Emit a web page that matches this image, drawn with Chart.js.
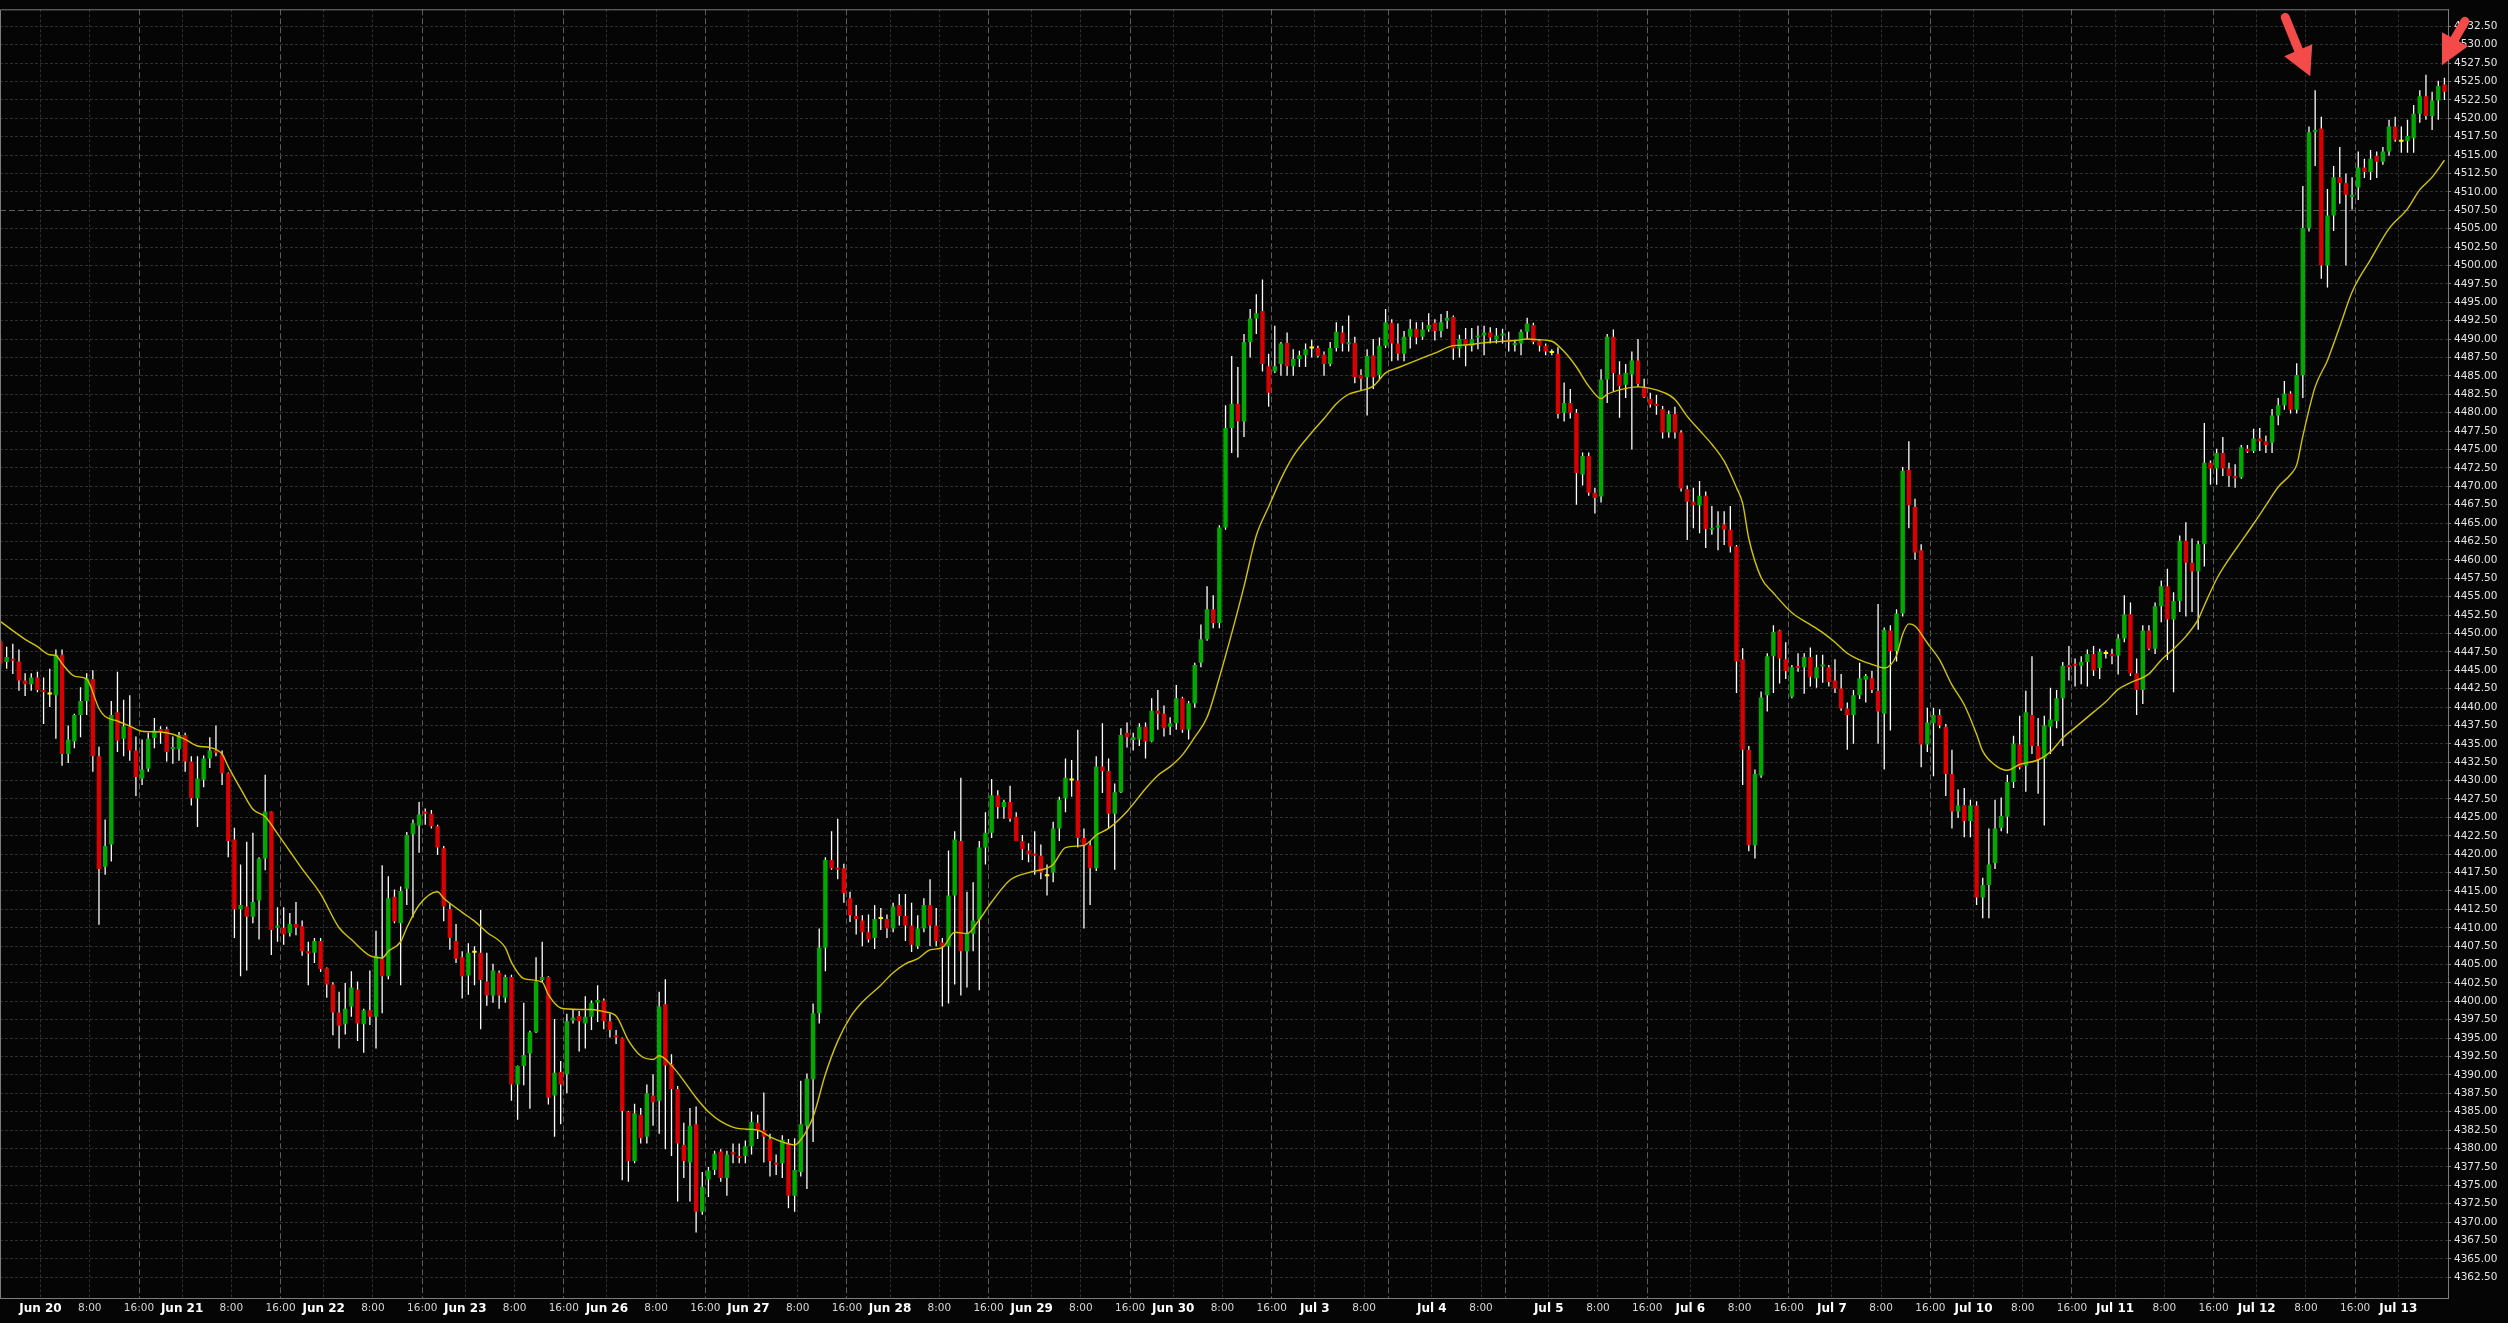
<!DOCTYPE html>
<html>
<head>
<meta charset="utf-8">
<script src="https://cdn.jsdelivr.net/npm/chart.js@4.4.1/dist/chart.umd.min.js"></script>
<style>
  html, body { margin: 0; padding: 0; background: #050505; }
  canvas { display: block; }
</style>
</head>
<body>
<canvas id="chart" width="2508" height="1323"></canvas>
<script>
// hourly candles, Jun 20 - Jul 13 (index = bar number)
const opens = [
  4448.9, 4446.1, 4446.5, 4446.2, 4443.6, 4443.1, 4444.0, 4442.3, 4441.7, 4441.6,
  4447.1, 4433.6, 4435.3, 4438.9, 4440.8, 4443.8, 4433.3, 4418.3, 4421.3, 4439.3,
  4435.7, 4437.3, 4434.1, 4430.3, 4431.6, 4435.8, 4437.0, 4437.0, 4434.3, 4434.3,
  4436.2, 4432.6, 4427.6, 4430.1, 4433.0, 4434.1, 4433.5, 4431.0, 4422.0, 4412.5,
  4412.9, 4411.5, 4413.7, 4419.4, 4425.8, 4410.0, 4410.0, 4409.3, 4410.5, 4410.2,
  4406.8, 4406.6, 4408.2, 4404.5, 4402.3, 4398.5, 4396.9, 4399.3, 4401.6, 4396.9,
  4398.8, 4397.9, 4405.8, 4403.4, 4414.2, 4410.6, 4415.3, 4422.7, 4423.9, 4425.8,
  4425.5, 4423.8, 4420.8, 4412.5, 4408.2, 4406.0, 4403.5, 4406.6, 4406.6, 4402.7,
  4400.8, 4403.9, 4400.5, 4403.3, 4388.7, 4391.2, 4392.9, 4395.8, 4402.9, 4403.3,
  4387.2, 4390.4, 4390.1, 4397.4, 4398.0, 4397.0, 4397.9, 4399.8, 4400.1, 4397.3,
  4395.4, 4395.0, 4385.0, 4378.3, 4384.6, 4381.6, 4387.2, 4386.5, 4399.6, 4391.5,
  4388.1, 4380.5, 4378.1, 4383.3, 4371.4, 4375.8, 4377.1, 4379.6, 4376.0, 4379.5,
  4379.0, 4379.0, 4380.3, 4383.5, 4382.5, 4381.3, 4378.1, 4378.0, 4380.7, 4373.6,
  4376.8, 4383.1, 4389.4, 4398.4, 4407.3, 4419.2, 4418.1, 4418.1, 4414.0, 4411.6,
  4411.0, 4409.4, 4408.6, 4411.2, 4411.2, 4409.9, 4413.1, 4411.6, 4410.3, 4407.5,
  4409.9, 4413.1, 4410.3, 4408.0, 4407.5, 4414.4, 4421.8, 4406.8, 4409.2, 4411.1,
  4420.9, 4422.9, 4428.0, 4426.4, 4427.1, 4425.1, 4421.8, 4420.5, 4420.1, 4419.8,
  4417.0, 4417.5, 4423.5, 4427.6, 4430.0, 4430.0, 4422.2, 4421.2, 4418.1, 4431.9,
  4431.3, 4425.5, 4428.4, 4436.5, 4435.5, 4435.6, 4437.3, 4435.3, 4439.5, 4439.1,
  4437.3, 4437.8, 4441.2, 4436.9, 4440.5, 4446.0, 4449.2, 4453.3, 4451.4, 4464.4,
  4477.9, 4481.2, 4478.8, 4489.6, 4492.8, 4493.8, 4486.3, 4485.6, 4486.6, 4489.5,
  4486.3, 4487.3, 4487.8, 4488.7, 4488.8, 4487.9, 4486.6, 4488.8, 4490.9, 4489.3,
  4489.5, 4485.1, 4484.8, 4487.8, 4485.1, 4489.1, 4492.2, 4489.4, 4488.0, 4490.3,
  4491.4, 4490.3, 4491.3, 4492.2, 4491.1, 4492.5, 4493.0, 4488.7, 4490.0, 4489.1,
  4490.2, 4490.5, 4490.9, 4489.9, 4490.5, 4489.9, 4489.2, 4489.4, 4491.0, 4491.9,
  4489.8, 4489.1, 4488.1, 4488.0, 4480.0, 4481.3, 4480.0, 4471.6, 4474.1, 4469.1,
  4468.6, 4484.5, 4490.3, 4485.2, 4483.8, 4485.2, 4487.1, 4483.5, 4481.9, 4481.2,
  4480.5, 4477.3, 4479.8, 4477.3, 4469.6, 4467.9, 4467.4, 4468.7, 4464.1, 4464.4,
  4464.8, 4464.1, 4461.8, 4446.5, 4434.2, 4421.2, 4430.7, 4441.6, 4446.9, 4450.4,
  4446.5, 4441.4, 4445.5, 4445.4, 4446.8, 4443.9, 4445.5, 4445.4, 4443.6, 4442.5,
  4439.8, 4438.9, 4441.6, 4443.7, 4443.9, 4442.2, 4439.1, 4450.4, 4447.6, 4452.7,
  4472.2, 4467.2, 4461.3, 4434.9, 4437.8, 4438.9, 4437.3, 4430.9, 4425.8, 4426.7,
  4424.5, 4426.6, 4414.1, 4415.8, 4418.8, 4423.6, 4425.1, 4429.8, 4434.9, 4432.0,
  4438.9, 4434.7, 4433.0, 4437.3, 4438.1, 4441.2, 4445.7, 4445.8, 4445.6, 4446.1,
  4447.2, 4445.3, 4447.2, 4447.2, 4447.0, 4449.3, 4452.6, 4444.6, 4442.3, 4450.4,
  4447.9, 4453.7, 4456.4, 4451.9, 4454.4, 4462.6, 4459.6, 4458.4, 4462.1, 4473.2,
  4472.4, 4474.5, 4472.4, 4471.4, 4471.2, 4475.1, 4474.8, 4476.5, 4476.1, 4475.9,
  4479.6, 4481.0, 4482.6, 4480.4, 4485.1, 4505.1, 4518.1, 4518.6, 4500.0, 4506.8,
  4512.0, 4511.2, 4509.3, 4510.6, 4513.3, 4512.7, 4514.9, 4514.1, 4515.5, 4518.9,
  4516.8, 4516.9, 4517.3, 4520.6, 4523.0, 4520.3, 4522.4, 4524.6
];
const highs = [
  4449.2, 4448.2, 4448.6, 4447.8, 4444.6, 4444.6, 4444.8, 4444.0, 4445.2, 4447.8,
  4447.8, 4437.5, 4439.1, 4442.7, 4444.6, 4445.0, 4434.6, 4424.7, 4440.8, 4444.8,
  4441.0, 4441.6, 4436.0, 4435.6, 4436.5, 4438.5, 4437.4, 4437.3, 4436.0, 4436.6,
  4436.5, 4433.3, 4433.3, 4433.4, 4435.9, 4437.5, 4434.1, 4431.1, 4423.6, 4418.6,
  4421.7, 4422.9, 4419.6, 4430.8, 4425.8, 4412.8, 4412.8, 4412.0, 4413.5, 4411.0,
  4408.1, 4408.6, 4408.6, 4404.6, 4402.6, 4401.3, 4402.5, 4404.1, 4402.7, 4399.0,
  4404.2, 4409.6, 4418.5, 4417.0, 4415.2, 4415.6, 4423.0, 4424.7, 4427.1, 4426.2,
  4426.0, 4424.0, 4421.1, 4413.3, 4410.5, 4406.8, 4407.9, 4407.5, 4412.4, 4406.6,
  4405.1, 4404.2, 4403.6, 4403.6, 4391.3, 4399.8, 4396.0, 4406.0, 4408.1, 4403.4,
  4397.6, 4391.9, 4398.3, 4398.9, 4398.7, 4400.7, 4400.1, 4402.2, 4400.4, 4398.3,
  4396.1, 4395.1, 4385.1, 4386.1, 4385.5, 4388.7, 4390.1, 4401.3, 4403.0, 4392.8,
  4388.5, 4383.5, 4385.5, 4385.7, 4376.8, 4377.5, 4379.7, 4379.9, 4379.7, 4380.7,
  4380.7, 4381.1, 4385.0, 4384.6, 4387.6, 4382.0, 4379.2, 4381.8, 4381.3, 4381.4,
  4389.2, 4390.2, 4399.7, 4409.9, 4419.6, 4423.1, 4424.8, 4418.7, 4414.9, 4413.1,
  4411.7, 4411.8, 4413.1, 4412.7, 4411.8, 4413.4, 4414.6, 4414.6, 4413.4, 4411.7,
  4414.0, 4416.6, 4412.7, 4408.6, 4420.5, 4423.1, 4430.4, 4414.9, 4416.2, 4421.8,
  4425.7, 4430.2, 4428.7, 4427.4, 4429.3, 4425.7, 4422.6, 4421.5, 4423.1, 4421.3,
  4418.6, 4424.4, 4427.8, 4433.0, 4432.8, 4436.9, 4423.5, 4421.8, 4433.3, 4437.8,
  4433.0, 4429.6, 4437.1, 4437.9, 4436.5, 4437.8, 4437.9, 4441.2, 4442.3, 4440.2,
  4438.6, 4443.0, 4441.4, 4440.8, 4446.0, 4451.2, 4456.4, 4455.2, 4464.7, 4481.0,
  4487.7, 4486.2, 4490.7, 4494.1, 4496.1, 4498.1, 4488.0, 4491.8, 4489.6, 4490.9,
  4488.6, 4488.4, 4489.4, 4489.9, 4489.1, 4488.3, 4489.6, 4492.3, 4491.8, 4493.2,
  4490.3, 4485.9, 4488.6, 4490.0, 4490.2, 4494.1, 4492.7, 4492.1, 4491.1, 4492.7,
  4492.3, 4492.3, 4493.5, 4492.7, 4493.4, 4493.8, 4493.2, 4490.6, 4491.5, 4491.5,
  4491.8, 4491.8, 4491.6, 4491.5, 4491.4, 4491.0, 4489.9, 4491.3, 4492.9, 4492.2,
  4490.0, 4489.4, 4488.6, 4488.9, 4484.1, 4483.2, 4480.5, 4474.6, 4474.6, 4469.8,
  4485.9, 4490.7, 4491.3, 4487.0, 4486.6, 4488.3, 4490.0, 4484.6, 4482.7, 4482.4,
  4480.9, 4480.3, 4480.8, 4477.6, 4470.1, 4469.8, 4470.7, 4469.3, 4467.3, 4466.6,
  4466.6, 4467.3, 4462.0, 4448.0, 4434.7, 4431.5, 4442.1, 4447.3, 4451.1, 4450.5,
  4448.8, 4445.7, 4447.3, 4447.3, 4448.1, 4447.1, 4447.1, 4445.7, 4446.5, 4444.5,
  4440.6, 4442.3, 4446.0, 4444.5, 4444.9, 4454.0, 4450.8, 4451.1, 4453.3, 4472.6,
  4476.1, 4468.3, 4462.1, 4439.9, 4439.9, 4439.7, 4437.7, 4434.2, 4428.8, 4429.0,
  4427.4, 4427.2, 4416.8, 4423.5, 4427.4, 4427.7, 4430.8, 4436.1, 4438.8, 4442.2,
  4446.9, 4438.5, 4438.8, 4442.6, 4442.3, 4446.1, 4448.3, 4446.6, 4446.9, 4447.8,
  4448.3, 4447.9, 4447.7, 4447.9, 4449.9, 4455.2, 4454.2, 4446.6, 4451.1, 4451.1,
  4454.2, 4457.2, 4458.8, 4455.6, 4463.3, 4465.1, 4462.9, 4462.6, 4478.6, 4473.5,
  4475.1, 4476.7, 4473.2, 4473.0, 4475.6, 4475.6, 4477.8, 4477.9, 4476.9, 4480.5,
  4482.0, 4484.3, 4482.9, 4486.7, 4510.8, 4518.9, 4523.8, 4520.2, 4510.4, 4513.5,
  4516.1, 4512.5, 4512.0, 4515.5, 4514.5, 4515.7, 4515.5, 4516.1, 4519.8, 4520.2,
  4518.9, 4519.8, 4521.8, 4523.8, 4525.9, 4523.6, 4525.1, 4525.5
];
const lows = [
  4445.2, 4445.2, 4444.5, 4442.2, 4441.5, 4442.2, 4442.0, 4437.7, 4440.0, 4435.7,
  4432.0, 4432.4, 4434.4, 4435.9, 4438.9, 4431.2, 4410.4, 4417.2, 4419.0, 4433.9,
  4433.3, 4432.7, 4427.9, 4429.4, 4431.2, 4434.4, 4435.0, 4432.6, 4432.3, 4432.7,
  4431.2, 4426.6, 4423.7, 4429.1, 4431.7, 4433.3, 4429.4, 4419.6, 4408.6, 4403.4,
  4404.2, 4410.6, 4408.4, 4417.8, 4406.3, 4408.1, 4407.7, 4408.8, 4409.0, 4406.2,
  4402.2, 4405.2, 4404.0, 4400.5, 4395.4, 4393.6, 4395.5, 4397.9, 4394.6, 4393.0,
  4396.8, 4393.6, 4398.4, 4403.0, 4410.6, 4402.2, 4413.1, 4411.4, 4420.2, 4424.0,
  4423.5, 4419.9, 4410.9, 4407.0, 4405.2, 4400.4, 4400.9, 4402.2, 4396.2, 4399.4,
  4399.8, 4399.0, 4399.8, 4386.5, 4383.9, 4388.6, 4385.4, 4395.7, 4402.6, 4386.0,
  4381.6, 4383.3, 4387.5, 4397.0, 4393.2, 4393.6, 4396.1, 4397.2, 4396.2, 4395.1,
  4394.2, 4375.7, 4375.5, 4378.0, 4380.7, 4380.7, 4383.1, 4382.0, 4379.9, 4379.0,
  4372.8, 4376.0, 4372.8, 4368.6, 4371.0, 4373.4, 4376.4, 4375.5, 4373.6, 4378.0,
  4378.0, 4378.0, 4379.2, 4381.3, 4378.1, 4376.2, 4376.4, 4376.0, 4371.9, 4371.4,
  4376.2, 4374.5, 4380.9, 4397.0, 4404.1, 4417.9, 4416.6, 4413.4, 4410.8, 4409.1,
  4407.5, 4408.0, 4407.1, 4409.7, 4408.6, 4409.4, 4410.3, 4408.2, 4406.7, 4407.1,
  4409.4, 4407.5, 4407.5, 4399.3, 4399.7, 4402.3, 4400.8, 4401.9, 4406.8, 4401.5,
  4418.6, 4422.2, 4424.8, 4424.8, 4424.4, 4421.8, 4419.2, 4418.9, 4417.2, 4416.6,
  4414.4, 4416.2, 4421.8, 4425.7, 4427.8, 4420.9, 4409.9, 4413.1, 4417.7, 4428.3,
  4423.5, 4417.9, 4428.3, 4434.5, 4434.1, 4434.7, 4433.0, 4435.2, 4436.9, 4436.0,
  4436.2, 4436.9, 4436.5, 4435.6, 4439.9, 4445.4, 4449.0, 4450.7, 4450.7, 4464.1,
  4474.5, 4473.9, 4476.7, 4487.5, 4490.7, 4485.6, 4480.8, 4485.4, 4485.0, 4485.0,
  4485.0, 4486.2, 4486.2, 4487.5, 4487.5, 4485.0, 4486.3, 4488.3, 4488.3, 4488.3,
  4484.0, 4483.0, 4479.6, 4483.2, 4484.5, 4488.8, 4487.0, 4487.1, 4487.0, 4488.7,
  4489.3, 4489.9, 4491.0, 4489.8, 4490.2, 4491.4, 4487.2, 4487.5, 4486.3, 4488.3,
  4488.6, 4487.8, 4489.4, 4489.4, 4489.4, 4488.3, 4488.3, 4487.8, 4490.0, 4489.3,
  4488.3, 4487.8, 4487.8, 4479.2, 4478.8, 4479.2, 4467.5, 4470.1, 4468.7, 4466.3,
  4467.8, 4481.3, 4482.9, 4479.3, 4482.0, 4475.0, 4483.5, 4482.0, 4480.7, 4479.7,
  4476.5, 4476.6, 4476.5, 4469.3, 4462.7, 4464.3, 4463.6, 4461.6, 4463.4, 4461.3,
  4462.0, 4461.0, 4441.9, 4429.4, 4420.4, 4419.4, 4430.4, 4439.4, 4441.9, 4443.2,
  4443.8, 4441.2, 4444.8, 4441.8, 4442.8, 4442.6, 4443.3, 4442.8, 4441.9, 4439.5,
  4434.2, 4435.0, 4441.1, 4440.6, 4441.9, 4435.0, 4431.5, 4436.8, 4446.2, 4452.3,
  4464.3, 4460.0, 4431.8, 4433.9, 4430.6, 4437.1, 4427.9, 4423.5, 4424.9, 4422.3,
  4422.3, 4413.1, 4411.3, 4411.3, 4418.0, 4423.1, 4422.8, 4429.0, 4431.5, 4428.5,
  4433.6, 4428.2, 4423.9, 4433.6, 4437.1, 4434.7, 4443.6, 4442.8, 4443.1, 4442.8,
  4444.2, 4443.8, 4446.6, 4445.8, 4444.4, 4448.8, 4444.2, 4438.9, 4440.4, 4447.7,
  4447.2, 4451.5, 4446.4, 4442.0, 4452.9, 4452.3, 4452.9, 4450.5, 4459.1, 4470.2,
  4470.2, 4471.4, 4469.9, 4469.8, 4471.0, 4474.5, 4474.5, 4474.8, 4474.5, 4474.5,
  4478.3, 4480.4, 4479.9, 4479.9, 4482.0, 4504.6, 4513.5, 4498.2, 4497.0, 4504.7,
  4508.4, 4500.0, 4507.6, 4508.9, 4511.9, 4511.6, 4511.9, 4513.7, 4514.9, 4516.8,
  4515.3, 4515.3, 4515.3, 4519.4, 4519.8, 4518.4, 4519.8, 4522.5
];
const closes = [
  4445.9, 4446.8, 4446.3, 4443.6, 4443.1, 4444.0, 4442.3, 4442.0, 4441.7, 4447.1,
  4433.6, 4435.6, 4438.9, 4440.8, 4443.9, 4433.3, 4418.0, 4421.1, 4438.9, 4435.4,
  4437.4, 4434.1, 4430.5, 4431.5, 4435.7, 4436.8, 4436.6, 4433.9, 4434.5, 4436.2,
  4432.6, 4427.6, 4430.3, 4433.0, 4434.1, 4433.8, 4431.0, 4421.8, 4412.5, 4413.1,
  4411.5, 4413.5, 4419.4, 4425.8, 4409.7, 4410.3, 4409.1, 4410.5, 4410.0, 4406.8,
  4406.5, 4408.2, 4404.4, 4402.3, 4398.5, 4396.7, 4399.0, 4401.9, 4397.0, 4398.8,
  4397.9, 4406.2, 4403.4, 4414.0, 4410.9, 4415.0, 4422.6, 4424.2, 4425.4, 4425.5,
  4423.8, 4420.9, 4412.9, 4408.6, 4405.8, 4403.4, 4406.6, 4406.6, 4402.9, 4400.8,
  4404.2, 4400.8, 4403.3, 4388.7, 4391.2, 4392.7, 4395.8, 4402.7, 4403.3, 4386.9,
  4390.3, 4388.7, 4397.3, 4397.8, 4397.3, 4397.9, 4399.8, 4400.2, 4397.3, 4396.1,
  4395.1, 4385.1, 4378.3, 4384.8, 4381.4, 4387.5, 4386.3, 4399.3, 4391.3, 4388.1,
  4380.7, 4378.3, 4383.1, 4371.4, 4374.8, 4377.0, 4379.3, 4376.0, 4379.2, 4379.2,
  4378.7, 4380.3, 4383.6, 4382.5, 4381.6, 4378.3, 4377.8, 4381.2, 4373.6, 4377.1,
  4383.3, 4389.5, 4398.4, 4407.3, 4419.2, 4418.1, 4417.9, 4414.7, 4411.7, 4411.2,
  4409.4, 4408.4, 4411.2, 4411.2, 4409.9, 4412.9, 4411.6, 4410.3, 4407.7, 4409.9,
  4413.1, 4410.3, 4408.2, 4407.5, 4414.4, 4422.0, 4406.8, 4409.2, 4411.0, 4420.9,
  4422.9, 4428.0, 4426.4, 4427.1, 4424.8, 4421.8, 4420.7, 4420.0, 4419.8, 4417.5,
  4417.0, 4423.5, 4427.4, 4430.4, 4430.0, 4422.2, 4421.2, 4418.1, 4431.9, 4431.3,
  4425.5, 4428.4, 4436.2, 4435.9, 4435.9, 4437.3, 4435.3, 4439.5, 4439.1, 4437.1,
  4437.8, 4441.2, 4436.9, 4440.5, 4445.7, 4449.2, 4453.3, 4451.4, 4464.4, 4477.9,
  4481.2, 4478.8, 4489.6, 4492.8, 4493.5, 4486.6, 4482.7, 4486.3, 4489.4, 4486.3,
  4487.3, 4487.8, 4488.6, 4488.7, 4487.7, 4486.6, 4488.8, 4491.0, 4489.4, 4489.5,
  4484.8, 4484.6, 4487.7, 4484.8, 4489.1, 4492.3, 4489.4, 4488.0, 4490.3, 4491.4,
  4490.2, 4491.3, 4491.9, 4491.1, 4492.3, 4492.9, 4488.7, 4490.0, 4489.1, 4490.0,
  4490.5, 4490.9, 4490.2, 4490.5, 4490.7, 4489.6, 4489.4, 4491.0, 4492.1, 4489.6,
  4489.1, 4488.3, 4488.1, 4479.8, 4481.3, 4480.0, 4471.8, 4474.1, 4469.1, 4468.4,
  4484.5, 4490.3, 4485.4, 4483.6, 4485.4, 4487.1, 4483.9, 4482.1, 4481.1, 4480.9,
  4477.3, 4479.8, 4477.3, 4469.7, 4467.9, 4467.4, 4468.7, 4464.2, 4464.3, 4464.6,
  4464.1, 4461.8, 4446.2, 4434.2, 4421.2, 4430.9, 4441.3, 4446.9, 4450.2, 4446.6,
  4444.9, 4445.4, 4445.3, 4446.8, 4444.1, 4445.4, 4445.7, 4443.4, 4442.5, 4439.8,
  4438.9, 4441.6, 4443.9, 4444.2, 4442.3, 4439.4, 4450.5, 4447.6, 4452.7, 4472.1,
  4467.4, 4461.0, 4434.9, 4437.9, 4438.9, 4437.5, 4430.9, 4425.8, 4426.6, 4424.5,
  4426.6, 4414.1, 4415.8, 4418.6, 4423.5, 4425.2, 4429.8, 4435.0, 4431.8, 4439.3,
  4434.7, 4432.8, 4437.5, 4438.3, 4441.2, 4445.6, 4445.4, 4445.6, 4446.1, 4447.2,
  4445.0, 4447.5, 4447.2, 4446.9, 4449.3, 4452.6, 4444.6, 4442.3, 4450.4, 4447.9,
  4453.7, 4456.4, 4451.9, 4454.4, 4462.6, 4459.6, 4458.4, 4462.1, 4473.2, 4472.4,
  4474.5, 4472.4, 4471.4, 4471.1, 4475.3, 4474.7, 4476.5, 4476.1, 4475.6, 4479.6,
  4481.0, 4482.6, 4480.4, 4485.1, 4505.1, 4518.1, 4518.4, 4500.0, 4506.8, 4512.0,
  4511.2, 4509.6, 4509.6, 4513.3, 4512.7, 4514.5, 4514.1, 4515.5, 4518.9, 4517.1,
  4516.8, 4517.6, 4520.6, 4523.0, 4520.3, 4522.4, 4524.4, 4523.6
];

// moving average at these bar numbers
const maIndex = [
  0, 4, 6, 8, 9, 10, 12, 14, 16, 17, 19, 21, 23, 26, 28, 30, 32, 34, 36, 37,
  39, 41, 43, 45, 47, 49, 52, 55, 57, 60, 62, 63, 65, 66, 68, 71, 72, 75, 77, 79,
  82, 83, 85, 88, 89, 91, 94, 96, 98, 100, 102, 104, 106, 107, 109, 111, 113, 115, 117, 120,
  123, 125, 127, 129, 130, 132, 134, 136, 138, 140, 143, 145, 147, 149, 151, 153, 155, 157, 159, 161,
  164, 167, 170, 171, 173, 176, 178, 180, 183, 186, 188, 190, 192, 194, 196, 198, 200, 202, 204, 206,
  208, 210, 213, 215, 217, 219, 221, 223, 225, 227, 230, 233, 236, 238, 241, 244, 246, 248, 250, 252,
  254, 256, 258, 260, 261, 263, 266, 268, 270, 272, 274, 276, 278, 280, 282, 283, 284, 286, 288, 291,
  294, 296, 298, 300, 302, 304, 306, 308, 309, 310, 311, 313, 315, 317, 319, 321, 322, 324, 326, 328,
  331, 333, 335, 337, 340, 342, 344, 346, 349, 351, 353, 355, 357, 358, 360, 362, 364, 366, 368, 370,
  372, 373, 374, 376, 378, 380, 382, 385, 388, 391, 393, 395, 397
];
const maValues = [
  4451.6, 4449.2, 4448.2, 4447.1, 4447.0, 4445.9, 4444.2, 4443.8, 4439.8, 4438.7, 4438.1, 4437.4, 4436.7, 4436.6, 4436.3, 4435.6, 4434.7, 4434.5, 4433.6, 4431.9,
  4428.9, 4426.1, 4425.1, 4422.8, 4420.4, 4418.0, 4414.6, 4410.0, 4408.4, 4406.2, 4405.9, 4406.8, 4408.1, 4410.0, 4413.1, 4414.9, 4414.0, 4412.1, 4410.9, 4409.4,
  4407.3, 4405.3, 4403.1, 4402.6, 4400.9, 4399.1, 4398.9, 4398.9, 4398.6, 4398.0, 4394.7, 4392.6, 4392.1, 4392.6, 4391.3, 4389.2, 4386.9, 4385.0, 4383.7, 4382.7,
  4382.5, 4381.6, 4380.9, 4380.5, 4381.2, 4384.3, 4390.1, 4394.6, 4397.8, 4399.9, 4402.2, 4403.9, 4405.1, 4405.8, 4407.0, 4407.3, 4409.4, 4409.2, 4411.1, 4413.5,
  4416.5, 4417.5, 4418.1, 4418.6, 4420.9, 4421.2, 4422.6, 4423.5, 4425.8, 4428.9, 4430.7, 4431.9, 4433.5, 4435.9, 4438.6, 4444.0, 4450.0, 4456.4, 4463.3, 4467.2,
  4471.0, 4474.1, 4477.3, 4479.2, 4481.2, 4482.5, 4483.0, 4483.6, 4485.4, 4486.1, 4487.1, 4488.1, 4489.1, 4489.2, 4489.5, 4489.7, 4489.8, 4490.0, 4489.9, 4489.7,
  4488.3, 4486.2, 4483.6, 4481.9, 4482.5, 4483.1, 4483.5, 4483.3, 4482.8, 4481.8, 4479.5, 4477.6, 4475.7, 4473.4, 4469.8, 4467.7, 4462.9, 4457.6, 4455.5, 4452.8,
  4451.2, 4450.1, 4448.8, 4447.3, 4446.4, 4445.8, 4445.3, 4447.0, 4449.9, 4451.3, 4451.0, 4448.7, 4446.4, 4443.0, 4440.3, 4436.3, 4434.0, 4432.1, 4431.4, 4432.2,
  4432.8, 4433.9, 4435.8, 4437.2, 4439.3, 4440.7, 4442.4, 4443.3, 4444.5, 4446.4, 4447.9, 4449.6, 4451.9, 4453.8, 4457.4, 4460.1, 4462.5, 4464.9, 4467.4, 4469.9,
  4471.6, 4472.9, 4476.8, 4483.5, 4487.1, 4491.7, 4496.4, 4500.8, 4505.0, 4507.7, 4510.3, 4512.0, 4514.3
];

const yTicks = [
  4362.5, 4365, 4367.5, 4370, 4372.5, 4375, 4377.5, 4380, 4382.5, 4385,
  4387.5, 4390, 4392.5, 4395, 4397.5, 4400, 4402.5, 4405, 4407.5, 4410,
  4412.5, 4415, 4417.5, 4420, 4422.5, 4425, 4427.5, 4430, 4432.5, 4435,
  4437.5, 4440, 4442.5, 4445, 4447.5, 4450, 4452.5, 4455, 4457.5, 4460,
  4462.5, 4465, 4467.5, 4470, 4472.5, 4475, 4477.5, 4480, 4482.5, 4485,
  4487.5, 4490, 4492.5, 4495, 4497.5, 4500, 4502.5, 4505, 4507.5, 4510,
  4512.5, 4515, 4517.5, 4520, 4522.5, 4525, 4527.5, 4530, 4532.5
];
const markedLevel = 4507.5;

// time axis: bar-boundary positions and their labels
const xTickPos = [
  6.5, 14.5, 22.5, 29.5, 37.5, 45.5, 52.5, 60.5, 68.5, 75.5, 83.5, 91.5,
  98.5, 106.5, 114.5, 121.5, 129.5, 137.5, 144.5, 152.5, 160.5, 167.5, 175.5, 183.5,
  190.5, 198.5, 206.5, 213.5, 221.5, 225.5, 232.5, 240.5, 244.5,
  251.5, 259.5, 267.5, 274.5, 282.5, 290.5, 297.5, 305.5, 313.5, 320.5, 328.5, 336.5,
  343.5, 351.5, 359.5, 366.5, 374.5, 382.5, 389.5
];
const xTickLabels = [
  'Jun 20', '8:00', '16:00', 'Jun 21', '8:00', '16:00', 'Jun 22', '8:00', '16:00', 'Jun 23', '8:00', '16:00',
  'Jun 26', '8:00', '16:00', 'Jun 27', '8:00', '16:00', 'Jun 28', '8:00', '16:00', 'Jun 29', '8:00', '16:00',
  'Jun 30', '8:00', '16:00', 'Jul 3', '8:00', '', 'Jul 4', '8:00', '',
  'Jul 5', '8:00', '16:00', 'Jul 6', '8:00', '16:00', 'Jul 7', '8:00', '16:00', 'Jul 10', '8:00', '16:00',
  'Jul 11', '8:00', '16:00', 'Jul 12', '8:00', '16:00', 'Jul 13'
];
const sessionCloses = [22.5, 45.5, 68.5, 91.5, 114.5, 137.5, 160.5, 183.5, 206.5, 225.5, 244.5,
  267.5, 290.5, 313.5, 336.5, 359.5, 382.5];

// two callout arrows: [bar, price] of the tip
const arrowTips = [[375.2, 4525.7], [396.6, 4527.2]];

const bull = '#00a800';
const bear = '#d80000';
const flat = '#ffff00';
const dimGrid = '#2e2e2e';
const brightGrid = '#5c5c5c';
const frame = '#7c7c7c';

const isDate = i => /^[A-Z]/.test(xTickLabels[i] || '');

const bgPlugin = {
  id: 'bg',
  beforeDraw(chart) {
    const { ctx, width, height } = chart;
    ctx.save();
    ctx.fillStyle = '#050505';
    ctx.fillRect(0, 0, width, height);
    ctx.restore();
  }
};

const framePlugin = {
  id: 'frame',
  afterDraw(chart) {
    const { ctx, chartArea: a } = chart;
    ctx.save();
    ctx.strokeStyle = frame;
    ctx.lineWidth = 1;
    ctx.beginPath();
    ctx.moveTo(a.left + 0.5, a.bottom);
    ctx.lineTo(a.left + 0.5, a.top + 0.5);
    ctx.lineTo(a.right, a.top + 0.5);
    ctx.stroke();
    ctx.restore();
  }
};

const arrowPlugin = {
  id: 'arrows',
  afterDraw(chart) {
    const { ctx, scales: { x, y } } = chart;
    // shape offsets in px from the tip: tail, neck, two head corners
    const shapes = [
      { tail: [-25, -59], neck: [-12, -27], w1: [-26, -20], w2: [2, -32] },
      { tail: [23, -44], neck: [12, -25], w1: [0, -33], w2: [26, -19] }
    ];
    ctx.save();
    ctx.fillStyle = '#f44a4a';
    ctx.strokeStyle = '#f44a4a';
    arrowTips.forEach((t, k) => {
      const px = x.getPixelForValue(t[0]);
      const py = y.getPixelForValue(t[1]);
      const s = shapes[k];
      ctx.lineWidth = 9;
      ctx.lineCap = 'round';
      ctx.beginPath();
      ctx.moveTo(px + s.tail[0], py + s.tail[1]);
      ctx.lineTo(px + s.neck[0], py + s.neck[1]);
      ctx.stroke();
      ctx.beginPath();
      ctx.moveTo(px, py);
      ctx.lineTo(px + s.w1[0], py + s.w1[1]);
      ctx.lineTo(px + s.w2[0], py + s.w2[1]);
      ctx.closePath();
      ctx.fill();
    });
    ctx.restore();
  }
};

const bodyColor = c => {
  const i = c.dataIndex;
  if (closes[i] > opens[i]) return bull;
  if (closes[i] < opens[i]) return bear;
  return flat;
};

new Chart(document.getElementById('chart'), {
  type: 'bar',
  data: {
    datasets: [
      {
        type: 'line',
        data: maIndex.map((b, k) => ({ x: b, y: maValues[k] })),
        borderColor: '#d2c400',
        borderWidth: 1.4,
        pointRadius: 0,
        cubicInterpolationMode: 'monotone',
        order: 0
      },
      {
        data: opens.map((o, i) => ({ x: i, y: [o, closes[i]] })),
        backgroundColor: bodyColor,
        grouped: false,
        maxBarThickness: 5,
        minBarLength: 2,
        borderWidth: 0,
        order: 1
      },
      {
        data: lows.map((l, i) => ({ x: i, y: [l, highs[i]] })),
        backgroundColor: '#ffffff',
        grouped: false,
        maxBarThickness: 1.3,
        borderWidth: 0,
        order: 2
      }
    ]
  },
  options: {
    responsive: false,
    animation: false,
    devicePixelRatio: 1,
    events: [],
    layout: { padding: { top: 6, left: 0, right: 0, bottom: 0 } },
    plugins: { legend: { display: false }, tooltip: { enabled: false } },
    scales: {
      x: {
        type: 'linear',
        min: -0.08,
        max: 397.58,
        offset: false,
        afterBuildTicks: s => { s.ticks = xTickPos.map(v => ({ value: v })); },
        afterFit: s => { s.height = 25; },
        ticks: {
          autoSkip: false,
          maxRotation: 0,
          minRotation: 0,
          padding: 4,
          callback: (v, i) => xTickLabels[i],
          color: c => isDate(c.index) ? '#ffffff' : '#d6d6d6',
          font: c => isDate(c.index)
            ? { family: 'DejaVu Sans', size: 12, weight: 'bold' }
            : { family: 'DejaVu Sans', size: 10.5 }
        },
        grid: {
          offset: false,
          drawTicks: false,
          color: c => (c.tick && sessionCloses.includes(c.tick.value)) ? brightGrid : dimGrid
        },
        border: {
          color: frame,
          dash: c => (c.tick && sessionCloses.includes(c.tick.value)) ? [6, 3] : [3, 2]
        }
      },
      y: {
        type: 'linear',
        position: 'right',
        min: 4359.69,
        max: 4534.81,
        beginAtZero: false,
        afterBuildTicks: s => { s.ticks = yTicks.map(v => ({ value: v })); },
        afterFit: s => { s.width = 60; },
        ticks: {
          padding: 3,
          color: '#e4e4e4',
          font: { family: 'DejaVu Sans', size: 10.5 },
          callback: v => v.toFixed(2)
        },
        grid: {
          tickLength: 3,
          tickColor: frame,
          color: c => (c.tick && c.tick.value === markedLevel) ? brightGrid : dimGrid
        },
        border: {
          color: frame,
          dash: c => (c.tick && c.tick.value === markedLevel) ? [6, 3] : [3, 2]
        }
      }
    }
  },
  plugins: [bgPlugin, framePlugin, arrowPlugin]
});
</script>
</body>
</html>
